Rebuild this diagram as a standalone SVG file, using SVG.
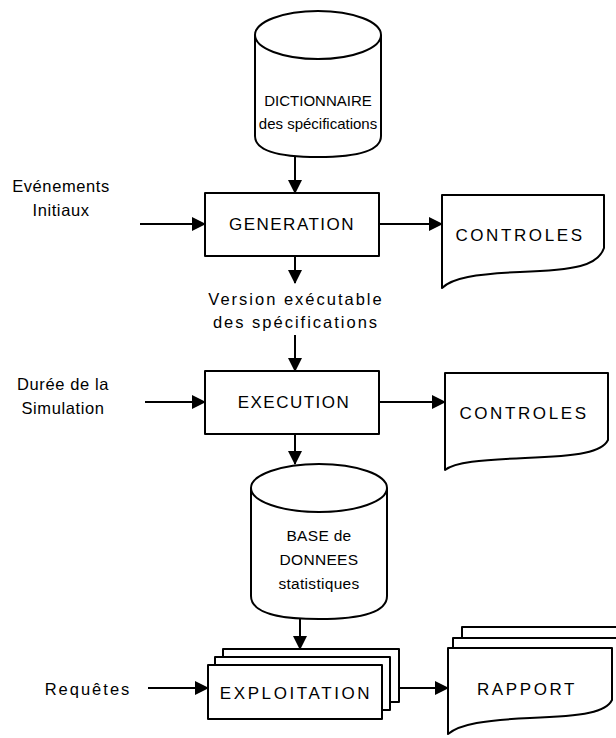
<svg xmlns="http://www.w3.org/2000/svg" width="616" height="738" viewBox="0 0 616 738">
  <defs>
    <marker id="arrow" markerWidth="14" markerHeight="14" refX="13" refY="7" orient="auto" markerUnits="userSpaceOnUse">
      <path d="M0,0 L14,7 L0,14 Z" fill="#000"/>
    </marker>
    <style>
      .shape { fill: #fff; stroke: #000; stroke-width: 2; stroke-linejoin: round; }
      .edge { fill: none; stroke: #000; stroke-width: 2; marker-end: url(#arrow); }
      text { font-family: "Liberation Sans", Arial, sans-serif; fill: #000; text-anchor: middle; }
      .lbl { font-size: 17px; letter-spacing: 1.5px; }
      .wide { font-size: 17px; letter-spacing: 2.6px; }
      .store { font-size: 15px; }
      .small { font-size: 15.5px; letter-spacing: 0.3px; }
      .side { font-size: 16.5px; letter-spacing: 0.6px; }
      .spaced { font-size: 16.5px; letter-spacing: 2px; }
    </style>
  </defs>
  <rect width="616" height="738" fill="#fff"/>

  <!-- store: specification dictionary -->
  <g id="dictionnaire">
    <path class="shape" d="M255,35 L255,136 Q255,157 318,157 Q381,157 381,136 L381,35"/>
    <ellipse class="shape" cx="318" cy="35" rx="63" ry="24"/>
    <text class="store" x="318" y="106">DICTIONNAIRE</text>
    <text class="store" x="318" y="129">des spécifications</text>
  </g>

  <!-- process: generation -->
  <g id="generation">
    <rect class="shape" x="205" y="193" width="174" height="63"/>
    <text class="lbl" x="292" y="230">GENERATION</text>
  </g>

  <g id="evenements">
    <text class="side" x="61" y="192">Evénements</text>
    <text class="side" x="61" y="216">Initiaux</text>
  </g>

  <!-- document: generation checks -->
  <g id="controles1">
    <path class="shape" d="M442,195 L604,195 L604,248 C598,266 575,270 520,272 C475,274 452,278 442,288 Z"/>
    <text class="wide" x="520" y="241">CONTROLES</text>
  </g>

  <g id="version">
    <text class="spaced" x="296" y="305">Version exécutable</text>
    <text class="spaced" x="296" y="328">des spécifications</text>
  </g>

  <!-- process: execution -->
  <g id="execution">
    <rect class="shape" x="205" y="371" width="174" height="63"/>
    <text class="lbl" x="294" y="408">EXECUTION</text>
  </g>

  <g id="duree">
    <text class="side" x="63" y="390">Durée de la</text>
    <text class="side" x="63" y="414">Simulation</text>
  </g>

  <!-- document: execution checks -->
  <g id="controles2">
    <path class="shape" d="M445,373 L608,373 L608,440 C602,452 580,456 525,458 C480,460 455,462 445,470 Z"/>
    <text class="wide" x="524" y="419">CONTROLES</text>
  </g>

  <!-- store: statistics database -->
  <g id="base">
    <path class="shape" d="M251,488 L251,596 Q251,619 319,619 Q387,619 387,596 L387,488"/>
    <ellipse class="shape" cx="319" cy="488" rx="68" ry="24"/>
    <text class="small" x="319" y="541">BASE de</text>
    <text class="small" x="319" y="565">DONNEES</text>
    <text class="small" x="319" y="589">statistiques</text>
  </g>

  <!-- process: exploitation (multiple) -->
  <g id="exploitation">
    <path class="shape" d="M223,660 L223,649 L399,649 L399,702 L390,702"/>
    <path class="shape" d="M215,668 L215,657 L390,657 L390,710 L382,710"/>
    <rect class="shape" x="208" y="665" width="174" height="54"/>
    <text class="wide" x="296" y="699">EXPLOITATION</text>
  </g>

  <g id="requetes">
    <text class="spaced" x="88" y="695">Requêtes</text>
  </g>

  <!-- document: reports (multiple) -->
  <g id="rapport">
    <path class="shape" d="M462,638 L462,627 L616,627"/>
    <path class="shape" d="M453,648 L453,638 L616,638"/>
    <path class="shape" d="M448,648 L612,648 L612,700 C606,712 585,716 530,718 C485,720 460,724 448,734 Z"/>
    <text class="wide" x="527" y="695">RAPPORT</text>
  </g>

  <g id="connectors">
    <path class="edge" d="M295,157 L295,193"/>
    <path class="edge" d="M140,224 L205,224"/>
    <path class="edge" d="M379,224 L442,224"/>
    <path class="edge" d="M295,256 L295,283"/>
    <path class="edge" d="M295,335 L295,371"/>
    <path class="edge" d="M145,402 L205,402"/>
    <path class="edge" d="M379,402 L445,402"/>
    <path class="edge" d="M295,434 L295,464"/>
    <path class="edge" d="M300,619 L300,649"/>
    <path class="edge" d="M148,688 L208,688"/>
    <path class="edge" d="M399,688 L448,688"/>
  </g>
</svg>
